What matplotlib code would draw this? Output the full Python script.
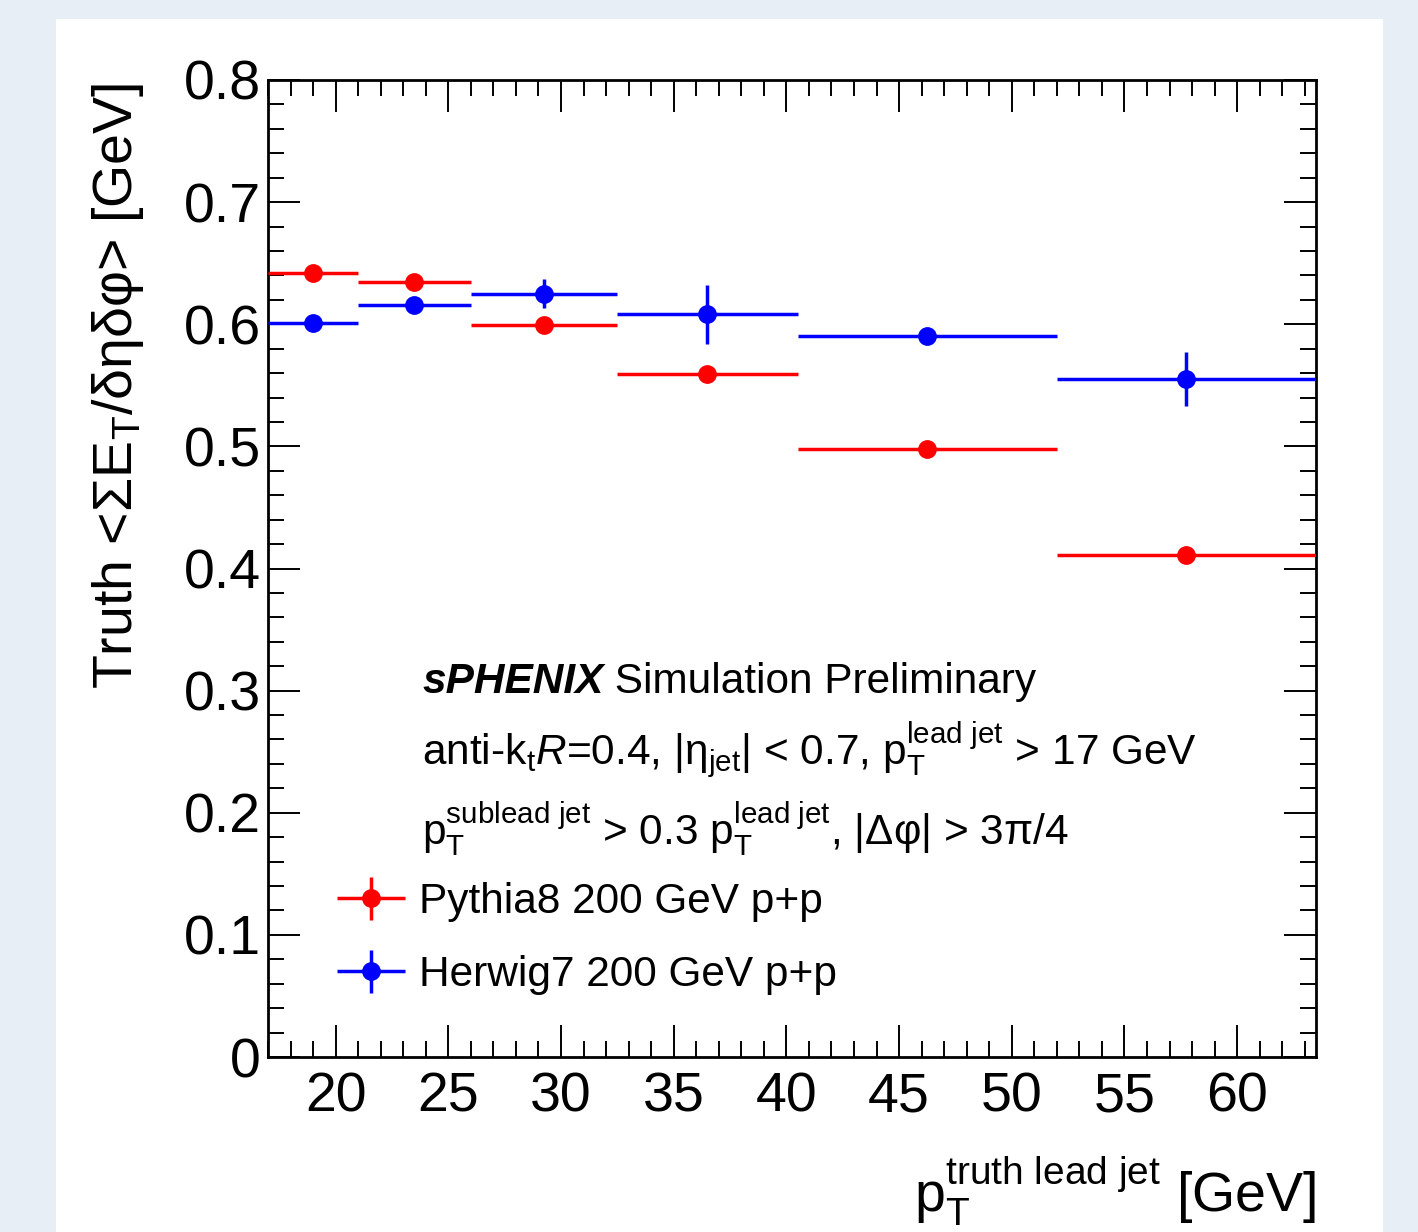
import numpy as np
import matplotlib
matplotlib.use("Agg")
import matplotlib.pyplot as plt
from matplotlib.patches import Rectangle
from matplotlib.ticker import MultipleLocator, FixedLocator, FixedFormatter
from matplotlib.legend_handler import HandlerErrorbar
from matplotlib.container import ErrorbarContainer

# ---------------- data ----------------
bin_edges = [17, 21, 26, 32.5, 40.5, 52, 63.5]
pythia = [0.642, 0.635, 0.599, 0.559, 0.498, 0.411]
pythia_err = [0.003, 0.003, 0.003, 0.003, 0.003, 0.003]
herwig = [0.601, 0.616, 0.625, 0.608, 0.590, 0.555]
herwig_err = [0.004, 0.004, 0.012, 0.024, 0.004, 0.022]
series_labels = ["Pythia8 200 GeV p+p", "Herwig7 200 GeV p+p"]
x_ticks = [20, 25, 30, 35, 40, 45, 50, 55, 60]
y_ticks = [0, 0.1, 0.2, 0.3, 0.4, 0.5, 0.6, 0.7, 0.8]
y_tick_labels = ["0", "0.1", "0.2", "0.3", "0.4", "0.5", "0.6", "0.7", "0.8"]

# ---------------- style ----------------
plt.rcParams["font.family"] = ["Liberation Sans", "DejaVu Sans"]
plt.rcParams["mathtext.fontset"] = "custom"
plt.rcParams["mathtext.rm"] = "Liberation Sans"
plt.rcParams["mathtext.it"] = "Liberation Sans:italic"
plt.rcParams["mathtext.bf"] = "Liberation Sans:bold"
plt.rcParams["mathtext.sf"] = "Liberation Sans"
plt.rcParams["mathtext.default"] = "regular"

W, H = 1418, 1232
fig = plt.figure(figsize=(W / 100, H / 100), dpi=100)
fig.patch.set_facecolor("#e8eef5")
fig.add_artist(Rectangle((56 / W, 0), (1383 - 56) / W, (H - 19) / H,
                         transform=fig.transFigure, facecolor="white",
                         edgecolor="none", zorder=-1))

ax = fig.add_axes([268 / W, 1 - 1057 / H, (1316 - 268) / W, (1057 - 80) / H])

edges = np.array(bin_edges)
centers = 0.5 * (edges[:-1] + edges[1:])
half_w = 0.5 * (edges[1:] - edges[:-1])

lw = 2.5
eb_p = ax.errorbar(centers, pythia, xerr=half_w, yerr=pythia_err, fmt="o",
                   color="#ff0000", ms=12.5, elinewidth=lw, capsize=0,
                   label=series_labels[0], zorder=3)
eb_h = ax.errorbar(centers, herwig, xerr=half_w, yerr=herwig_err, fmt="o",
                   color="#0000ff", ms=12.5, elinewidth=lw, capsize=0,
                   label=series_labels[1], zorder=4)

ax.set_xlim(edges[0], edges[-1])
ax.set_ylim(0, 0.8)
ax.xaxis.set_major_locator(FixedLocator(x_ticks))
ax.xaxis.set_minor_locator(MultipleLocator(1))
ax.yaxis.set_major_locator(FixedLocator(y_ticks))
ax.yaxis.set_major_formatter(FixedFormatter(y_tick_labels))
ax.yaxis.set_minor_locator(MultipleLocator(0.02))

ax.tick_params(which="both", direction="in", top=True, right=True,
               width=1.4, colors="black", labelsize=40)
ax.tick_params(which="major", length=23)
ax.tick_params(which="minor", length=11.5)
ax.tick_params(axis="y", pad=5)
ax.tick_params(axis="x", pad=10.5)
for s in ax.spines.values():
    s.set_linewidth(2)

# axis titles
ax.set_xlabel(r"p$_{\mathrm{T}}^{\mathrm{truth\ lead\ jet}}$ [GeV]", fontsize=40, loc="right")
ax.xaxis.label.set(ha="right", va="baseline")
ax.xaxis.set_label_coords(1.0, -0.1586)

ax.set_ylabel(r"Truth <ΣE$_{\mathrm{T}}$/δηδφ> [GeV]", fontsize=40, loc="top")
ax.yaxis.label.set(ha="right", va="baseline")
ax.yaxis.set_label_coords(-0.1298, 0.997)

# annotations
fs = 30.5
t1 = ax.text(0.147, 0.3725, "sPHENIX", transform=ax.transAxes, fontsize=fs,
             fontweight="bold", fontstyle="italic", ha="left", va="baseline")
ax.annotate(" Simulation Preliminary", xy=(1, 0), xycoords=t1, fontsize=fs,
            ha="left", va="bottom")
ax.text(0.147, 0.2989,
        r"anti-k$_{\mathrm{t}}$$\mathit{R}$=0.4, |η$_{\mathrm{jet}}$| < 0.7, "
        r"p$_{\mathrm{T}}^{\mathrm{lead\ jet}}$ > 17 GeV",
        transform=ax.transAxes, fontsize=fs, ha="left", va="baseline")
ax.text(0.147, 0.217,
        r"p$_{\mathrm{T}}^{\mathrm{sublead\ jet}}$ > 0.3 "
        r"p$_{\mathrm{T}}^{\mathrm{lead\ jet}}$, |Δφ| > 3π/4",
        transform=ax.transAxes, fontsize=fs, ha="left", va="baseline")

leg = ax.legend(handles=[eb_p, eb_h], labels=series_labels, loc="upper left",
                bbox_to_anchor=(0.0658, 0.179), borderaxespad=0, borderpad=0,
                frameon=False, fontsize=fs, handlelength=1.6,
                handletextpad=0.33, labelspacing=0.78, numpoints=1,
                handler_map={ErrorbarContainer: HandlerErrorbar(xerr_size=0.8, yerr_size=0.51)})

fig.savefig("out.png", dpi=100, facecolor=fig.get_facecolor())
